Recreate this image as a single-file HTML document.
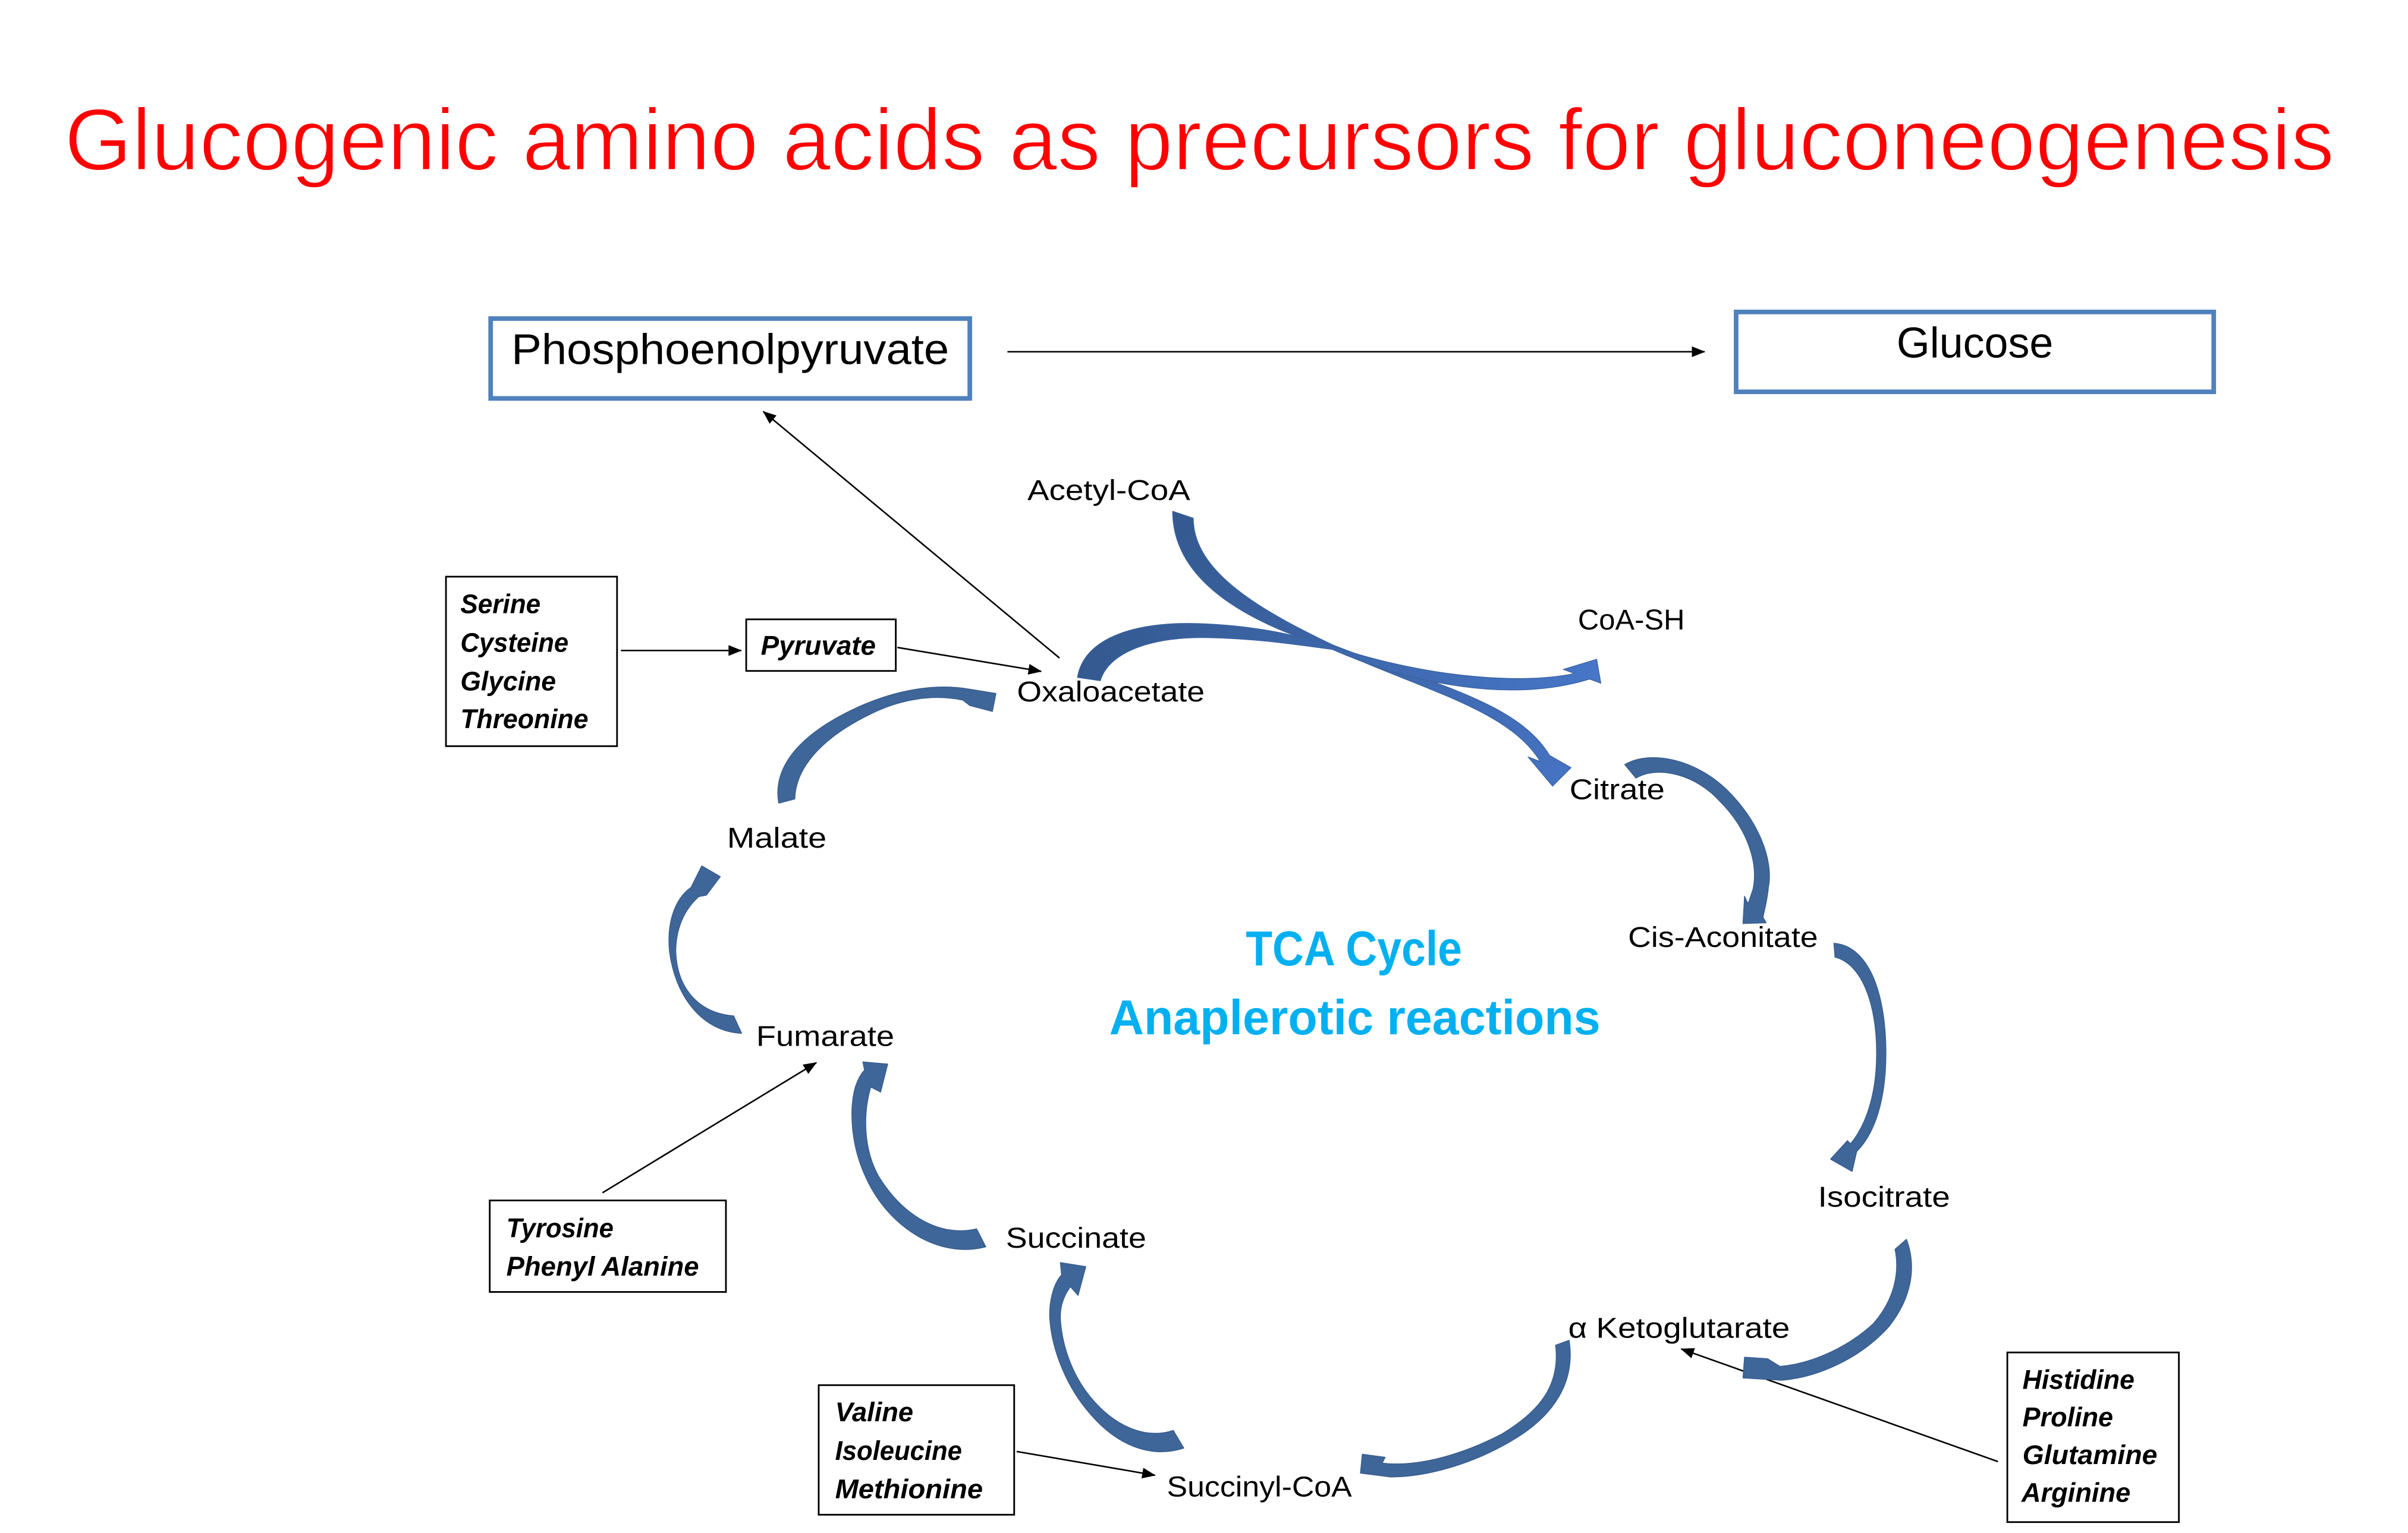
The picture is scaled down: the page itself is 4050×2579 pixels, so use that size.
<!DOCTYPE html>
<html>
<head>
<meta charset="utf-8">
<style>
html,body{margin:0;padding:0;background:#ffffff;}
svg{display:block;}
text{font-family:"Liberation Sans",sans-serif;}
.lbl{font-size:18.6px;fill:#000;}
.bi{font-size:17.6px;font-weight:bold;font-style:italic;fill:#000;}
.ln{stroke:#000;stroke-width:1;fill:none;}
.bx{fill:#fff;stroke:#000;stroke-width:1.1;}
.cy{fill:#3F6699;stroke:#395E90;stroke-width:0.6;stroke-linejoin:round;}
</style>
</head>
<body>
<svg width="4050" height="2579" viewBox="0 0 1568 998.5" preserveAspectRatio="none" xmlns="http://www.w3.org/2000/svg">
<defs>
<marker id="ah" viewBox="0 0 10 8" refX="9.5" refY="4" markerWidth="9" markerHeight="7" markerUnits="userSpaceOnUse" orient="auto">
<path d="M0,0 L10,4 L0,8 Z" fill="#000"/>
</marker>
<linearGradient id="gA" x1="0" y1="0" x2="1" y2="1">
<stop offset="0" stop-color="#34598F"/>
<stop offset="1" stop-color="#4673C4"/>
</linearGradient>
<linearGradient id="gB" x1="0" y1="0" x2="1" y2="0">
<stop offset="0" stop-color="#34598F"/>
<stop offset="1" stop-color="#4776C8"/>
</linearGradient>
</defs>

<!-- Title -->
<text x="42" y="110.6" font-size="57" fill="#FF0000" stroke="#ffffff" stroke-width="0.9" textLength="1478" lengthAdjust="spacingAndGlyphs">Glucogenic amino acids as precursors for gluconeogenesis</text>

<!-- PEP and Glucose boxes -->
<rect x="319.5" y="207.5" width="312" height="52" fill="#fff" stroke="#4F81BD" stroke-width="3"/>
<text x="333" y="237.2" font-size="28" fill="#000" textLength="285" lengthAdjust="spacingAndGlyphs">Phosphoenolpyruvate</text>
<rect x="1130.5" y="203.2" width="311" height="52" fill="#fff" stroke="#4F81BD" stroke-width="3"/>
<text x="1235" y="232.8" font-size="28" fill="#000" textLength="102" lengthAdjust="spacingAndGlyphs">Glucose</text>
<line class="ln" x1="656" y1="229.1" x2="1110" y2="229.1" marker-end="url(#ah)"/>

<!-- OAA -> PEP -->
<line class="ln" x1="689.9" y1="428.6" x2="497" y2="268" stroke-width="0.8" marker-end="url(#ah)"/>

<!-- Serine box -->
<rect class="bx" x="290.4" y="375.6" width="111.4" height="110.4"/>
<text class="bi" x="299.8" y="399.4" textLength="52.2" lengthAdjust="spacingAndGlyphs">Serine</text>
<text class="bi" x="299.8" y="424.5" textLength="70.4" lengthAdjust="spacingAndGlyphs">Cysteine</text>
<text class="bi" x="299.8" y="449.7" textLength="62.2" lengthAdjust="spacingAndGlyphs">Glycine</text>
<text class="bi" x="299.8" y="474.3" textLength="83.3" lengthAdjust="spacingAndGlyphs">Threonine</text>
<line class="ln" x1="404.3" y1="423.7" x2="482.7" y2="423.7" stroke-width="1.3" marker-end="url(#ah)"/>

<!-- Pyruvate box -->
<rect class="bx" x="485.9" y="403.4" width="97.4" height="33.6"/>
<text class="bi" x="495.4" y="426.5" textLength="74.9" lengthAdjust="spacingAndGlyphs">Pyruvate</text>
<line class="ln" x1="584.3" y1="421.7" x2="678" y2="437.3" marker-end="url(#ah)"/>

<!-- Tyrosine box -->
<rect class="bx" x="318.9" y="781.9" width="153.8" height="59.6"/>
<text class="bi" x="329.7" y="805.9" textLength="69.8" lengthAdjust="spacingAndGlyphs">Tyrosine</text>
<text class="bi" x="329.7" y="830.9" textLength="125.4" lengthAdjust="spacingAndGlyphs">Phenyl Alanine</text>
<line class="ln" x1="392.3" y1="776.9" x2="531.6" y2="692.1" marker-end="url(#ah)"/>

<!-- Valine box -->
<rect class="bx" x="533.1" y="902.2" width="127.3" height="84.4"/>
<text class="bi" x="543.8" y="925.8" textLength="50.9" lengthAdjust="spacingAndGlyphs">Valine</text>
<text class="bi" x="543.8" y="950.9" textLength="82.6" lengthAdjust="spacingAndGlyphs">Isoleucine</text>
<text class="bi" x="543.8" y="975.9" textLength="96.2" lengthAdjust="spacingAndGlyphs">Methionine</text>
<line class="ln" x1="662" y1="945.4" x2="752.1" y2="960.9" marker-end="url(#ah)"/>

<!-- Histidine box -->
<rect class="bx" x="1307.1" y="880.9" width="111.7" height="110.5"/>
<text class="bi" x="1317" y="904.6" textLength="72.9" lengthAdjust="spacingAndGlyphs">Histidine</text>
<text class="bi" x="1317" y="929.1" textLength="59" lengthAdjust="spacingAndGlyphs">Proline</text>
<text class="bi" x="1317" y="953.6" textLength="87.8" lengthAdjust="spacingAndGlyphs">Glutamine</text>
<text class="bi" x="1316.3" y="978.1" textLength="71" lengthAdjust="spacingAndGlyphs">Arginine</text>
<line class="ln" x1="1301" y1="952" x2="1094.7" y2="878.6" marker-end="url(#ah)"/>

<!-- Curved block arrows -->
<!-- Acetyl-CoA -> Citrate -->
<path d="M 763.6,333 C 763.6,378 811,405 866.5,422.1 C 928,450 982,462 1003,496 L 995,493 L 1011,512 L 1023,500 L 1009,492 C 988,457 931,445 867.5,419.9 C 822,398 777,373 777,337.5 Z" fill="url(#gA)" stroke="#3A62A0" stroke-width="0.5" stroke-linejoin="round"/>
<!-- Oxaloacetate -> CoA-SH -->
<path d="M 701.6,441.2 C 706,415 740,404 786,406.4 C 820,408 845,414 866.5,420.5 C 920,439 985,447 1025.3,438.7 L 1018,436 L 1039.7,429.4 L 1042.4,445 L 1035.1,442.3 C 985,458 920,446 867.5,423 C 845,420 820,416 786,415.3 C 752,414.5 722,424 716.5,443.4 Z" fill="url(#gB)" stroke="#3A62A0" stroke-width="0.5" stroke-linejoin="round"/>
<!-- Citrate -> Cis-Aconitate -->
<path class="cy" d="M 1058,498 C 1075,488 1105,495 1125,515 C 1145,535 1155,560 1151.5,578 C 1150.5,588 1148.5,594 1148,597.5 L 1150,601 L 1135,601.5 L 1136,583.8 L 1138.3,588.8 L 1141.6,578.9 C 1145,562 1138,540 1120,522 C 1105,505 1080,498 1065.3,506.8 Z"/>
<!-- Cis-Aconitate -> Isocitrate -->
<path class="cy" d="M 1194.2,614.4 C 1216,616 1228,645 1228,686 C 1228,716 1221,738 1209,750 L 1206,763 L 1192,755 L 1203,743 L 1205,745 C 1215,733 1222,713 1222,686 C 1222,655 1213,628 1194.9,623.4 Z"/>
<!-- Isocitrate -> alpha Ketoglutarate -->
<path class="cy" d="M 1241.4,807.2 C 1248,825 1245,845 1230,864 C 1212,884 1185,897 1160,899 L 1135,897.5 L 1136,884 L 1151,885 L 1159,890 C 1182,888 1205,876 1220,862 C 1234,846 1237,828 1234,813.7 Z"/>
<!-- alpha Ketoglutarate -> Succinyl-CoA -->
<path class="cy" d="M 1021.7,873 C 1026,900 1012,922 985,938 C 960,953 930,962 905.6,962 L 885.9,959.5 L 887.1,947.2 L 901.9,949.2 L 900,953 C 925,956 955,946 978,934 C 1003,919 1016,902 1013,876.2 Z"/>
<!-- Succinyl-CoA -> Succinate -->
<path class="cy" d="M 770.8,943.2 C 750,950 728,942 710,921 C 695,904 685,880 683.6,858.8 C 683,848 686,836 691.3,830.4 L 690.5,822.4 L 707,825 L 702,843.7 L 697,838 C 692,845 690,852 690.5,860 C 692,880 700,898 710.4,910.4 C 725,928 745,938 764,931.7 Z"/>
<!-- Succinate -> Fumarate -->
<path class="cy" d="M 641.9,812.1 C 612,820 578,800 563,765 C 554,745 553,722 557,708 C 559,702 561,699 563,697 L 561.9,691.7 L 578,693.1 L 573.4,711.3 L 567,708 C 562,725 562,748 572,766 C 588,792 612,806 635.9,800.4 Z"/>
<!-- Fumarate -> Malate -->
<path class="cy" d="M 482.9,673 C 458,672 440,650 436,620 C 434,600 440,585 450,578 L 457,564 L 469,571 L 460,583 L 455,584 C 446,592 440,604 440,620 C 441,645 456,660 477.7,661.7 Z"/>
<!-- Malate -> Oxaloacetate -->
<path class="cy" d="M 507.1,523.1 C 503,500 520,478 560,460 C 585,449 610,445 632,449 L 648.5,451.7 L 646.2,463.4 L 631.5,459.5 L 627,456 C 608,452 586,455 565,466 C 535,481 518,500 517.5,520.4 Z"/>

<!-- Metabolite labels -->
<text class="lbl" x="669" y="325.7" textLength="106" lengthAdjust="spacingAndGlyphs">Acetyl-CoA</text>
<text class="lbl" x="1027.5" y="410.1" textLength="69.5" lengthAdjust="spacingAndGlyphs">CoA-SH</text>
<text class="lbl" x="662.2" y="456.8" textLength="122.2" lengthAdjust="spacingAndGlyphs">Oxaloacetate</text>
<text class="lbl" x="1022" y="520.5" textLength="62" lengthAdjust="spacingAndGlyphs">Citrate</text>
<text class="lbl" x="1060.1" y="616.8" textLength="123.7" lengthAdjust="spacingAndGlyphs">Cis-Aconitate</text>
<text class="lbl" x="1183.8" y="786" textLength="86" lengthAdjust="spacingAndGlyphs">Isocitrate</text>
<text class="lbl" x="1021.2" y="871.4" textLength="144.3" lengthAdjust="spacingAndGlyphs">α Ketoglutarate</text>
<text class="lbl" x="759.8" y="974.6" textLength="120.5" lengthAdjust="spacingAndGlyphs">Succinyl-CoA</text>
<text class="lbl" x="655" y="812.6" textLength="91.4" lengthAdjust="spacingAndGlyphs">Succinate</text>
<text class="lbl" x="492.4" y="681.2" textLength="89.9" lengthAdjust="spacingAndGlyphs">Fumarate</text>
<text class="lbl" x="473.4" y="552.1" textLength="64.8" lengthAdjust="spacingAndGlyphs">Malate</text>

<!-- Center text -->
<text x="811.2" y="628.7" font-size="32" font-weight="bold" fill="#00B0F0" textLength="140.8" lengthAdjust="spacingAndGlyphs">TCA Cycle</text>
<text x="722.3" y="673.6" font-size="32" font-weight="bold" fill="#00B0F0" textLength="319.8" lengthAdjust="spacingAndGlyphs">Anaplerotic reactions</text>
</svg>
</body>
</html>
